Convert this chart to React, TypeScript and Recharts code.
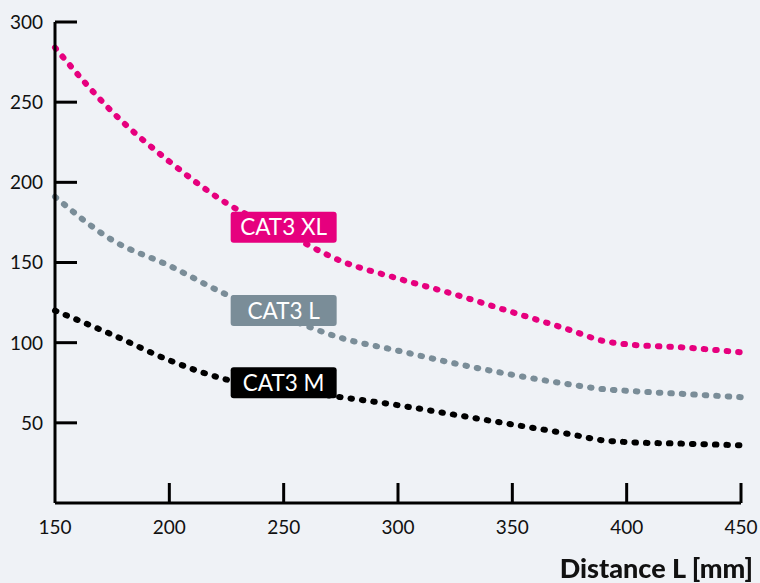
import { LineChart, Line, XAxis, YAxis, ReferenceDot } from 'recharts';

const distances = [150, 175, 200, 225, 250, 275, 300, 325, 350, 375, 390, 400, 425, 450];
const cat3XL = [284, 244, 213, 187, 169, 151, 140, 130, 119, 108, 101, 99, 97, 94];
const cat3L = [191, 164, 148, 130, 116, 103, 95, 87, 80, 74, 71, 70, 68, 66];
const cat3M = [120, 105, 89, 77, 71, 66, 61, 55, 49, 43, 39, 38, 37, 36];

const xTicks = [150, 200, 250, 300, 350, 400, 450];
const yTicks = [50, 100, 150, 200, 250, 300];

const seriesLabels = [
  { key: 'xl', text: 'CAT3 XL', x: 250, y: 172, color: '#e6007e' },
  { key: 'l', text: 'CAT3 L', x: 250, y: 120, color: '#7a8d98' },
  { key: 'm', text: 'CAT3 M', x: 250, y: 75, color: '#000000' },
];

const data = distances.map((d, i) => ({ d, xl: cat3XL[i], l: cat3L[i], m: cat3M[i] }));

const FONT = 'Lato, "DejaVu Sans", sans-serif';
const BG = '#eff2f6';

function YTick(props: any) {
  const { x, y, payload } = props;
  const axisX = x + 12;
  return (
    <g>
      <line x1={axisX} x2={axisX + 22} y1={y} y2={y} stroke="#000" strokeWidth={3} />
      <text x={x} y={y} dy="0.36em" textAnchor="end" fill="#111" fontSize={19} fontFamily={FONT}>
        {payload.value}
      </text>
    </g>
  );
}

function XTick(props: any) {
  const { x, y, payload } = props;
  const axisY = y - 12;
  return (
    <g>
      {payload.value !== 150 && (
        <line x1={x} x2={x} y1={axisY} y2={axisY - 20} stroke="#000" strokeWidth={3} />
      )}
      <text x={x} y={axisY + 24} dy="0.36em" textAnchor="middle" fill="#111" fontSize={19} fontFamily={FONT}>
        {payload.value}
      </text>
    </g>
  );
}

function Tag(props: any) {
  const { cx, cy, text, color } = props;
  const w = 106;
  const h = 31;
  return (
    <g>
      <rect x={cx - w / 2} y={cy - h / 2} width={w} height={h} rx={3} fill={color} />
      <text x={cx} y={cy} dy="0.36em" textAnchor="middle" fill="#fff" fontSize={22.5} fontFamily={FONT}>
        {text}
      </text>
    </g>
  );
}

const dotted = { strokeWidth: 6, strokeDasharray: '1.5 10', strokeLinecap: 'round' as const };

export default function App() {
  return (
    <div style={{ position: 'fixed', left: 0, top: 0, width: 760, height: 583, background: BG }}>
      <LineChart width={760} height={583} data={data} margin={{ top: 22, right: 19, bottom: 50, left: 0 }}>
        <XAxis
          dataKey="d"
          type="number"
          domain={[150, 450]}
          ticks={xTicks}
          tick={<XTick />}
          tickLine={false}
          tickSize={6}
          tickMargin={6}
          height={30}
          axisLine={{ stroke: '#000', strokeWidth: 3 }}
          interval={0}
        />
        <YAxis
          type="number"
          domain={[0, 300]}
          ticks={yTicks}
          tick={<YTick />}
          tickLine={false}
          tickSize={6}
          tickMargin={6}
          width={55}
          axisLine={{ stroke: '#000', strokeWidth: 3 }}
          interval={0}
        />
        <Line type="monotone" dataKey="xl" stroke="#e6007e" {...dotted} dot={false} activeDot={false} isAnimationActive={false} />
        <Line type="monotone" dataKey="l" stroke="#7a8d98" {...dotted} dot={false} activeDot={false} isAnimationActive={false} />
        <Line type="monotone" dataKey="m" stroke="#000000" {...dotted} dot={false} activeDot={false} isAnimationActive={false} />
        {seriesLabels.map((s) => (
          <ReferenceDot
            key={s.key}
            x={s.x}
            y={s.y}
            ifOverflow="visible"
            shape={(p: any) => <Tag {...p} text={s.text} color={s.color} />}
          />
        ))}
      </LineChart>
      <div
        style={{
          position: 'absolute',
          right: 7,
          top: 552,
          fontFamily: FONT,
          fontWeight: 900,
          fontSize: 27,
          color: '#111',
          lineHeight: '32px',
        }}
      >
        Distance L [mm]
      </div>
    </div>
  );
}
